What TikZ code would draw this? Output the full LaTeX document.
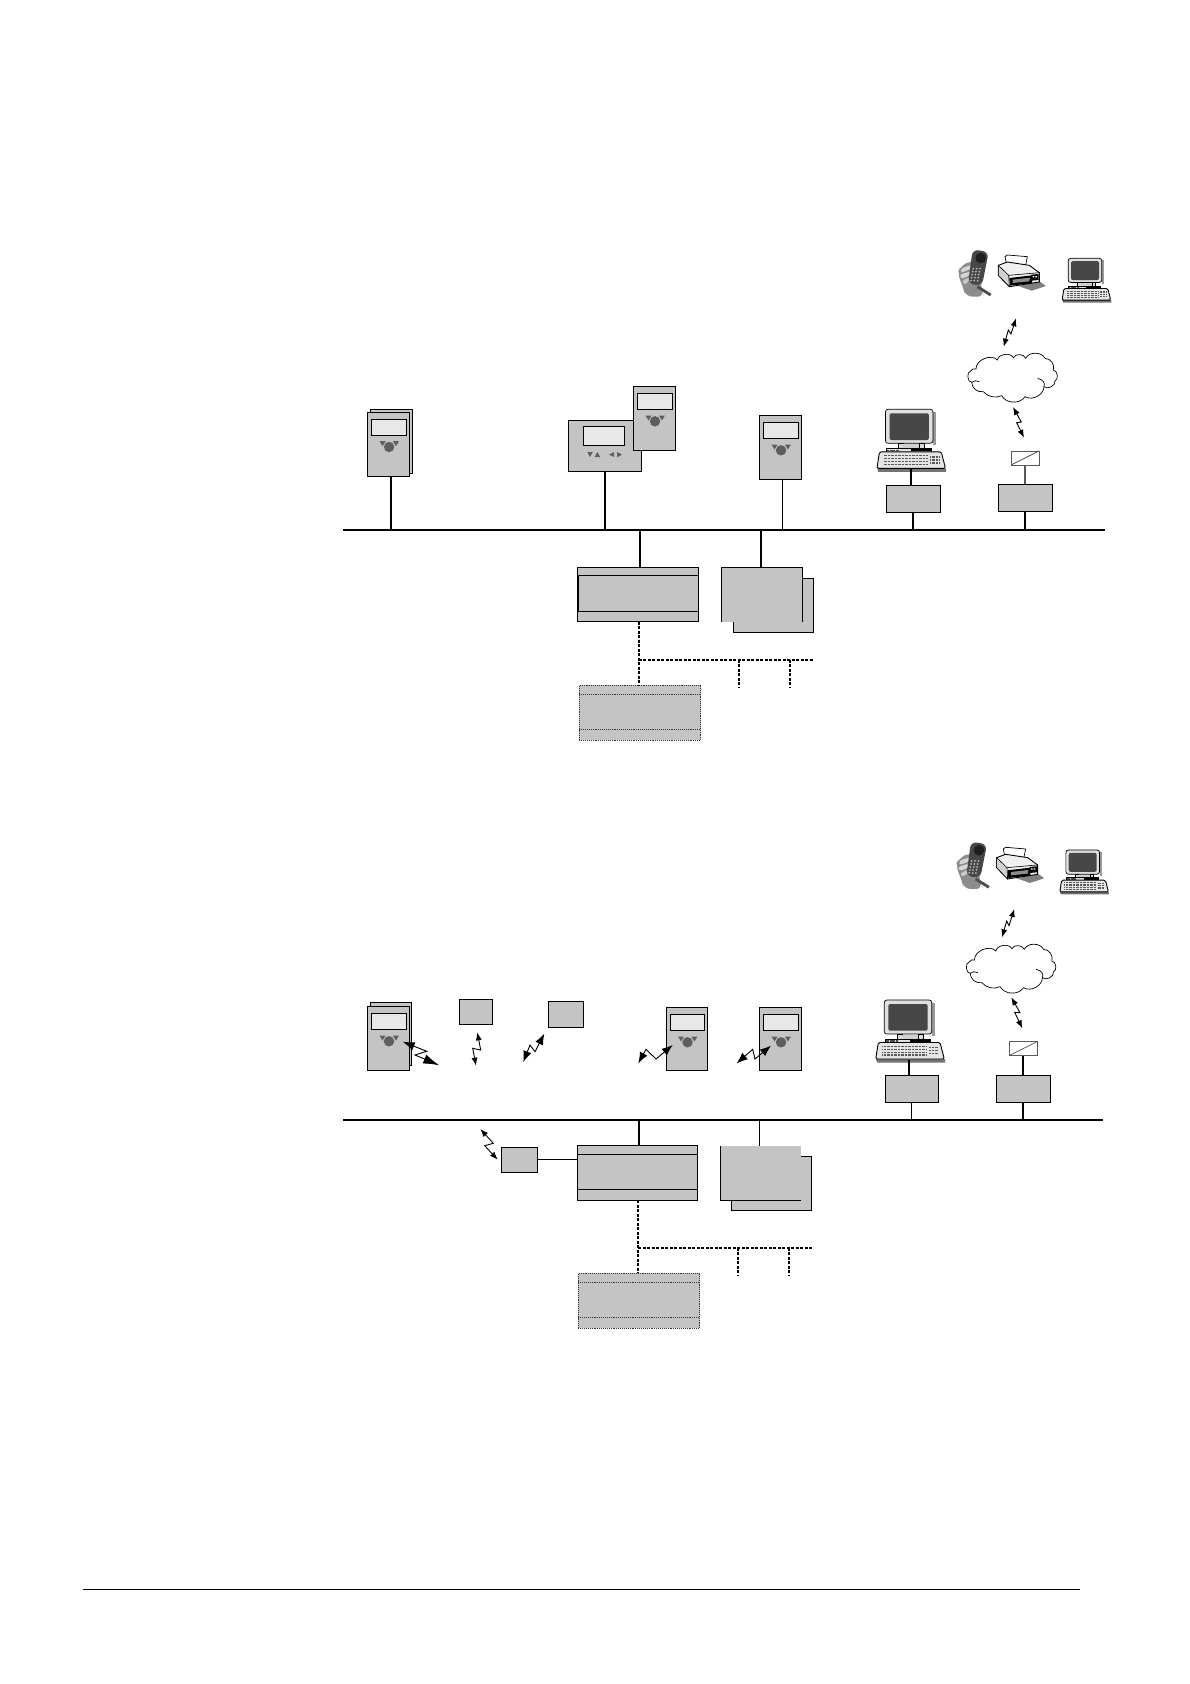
\documentclass[tikz,border=0pt]{standalone}
\usetikzlibrary{calc,fit,arrows.meta}
\definecolor{devgray}{HTML}{C4C4C4}
\definecolor{scrgray}{HTML}{E8E8E8}
\definecolor{knobgray}{HTML}{5E5E5E}
\tikzset{
  graybox/.style={draw=black,fill=devgray,line width=.9pt,inner sep=0pt,outer sep=0pt},
  screenbox/.style={draw=black,fill=scrgray,line width=.9pt,inner sep=0pt,outer sep=0pt},
  dotbox/.style={draw=black!80,fill=devgray,line width=.9pt,densely dotted,inner sep=0pt,outer sep=0pt},
  convbox/.style={draw=black!65,fill=white,line width=.8pt,inner sep=0pt,outer sep=0pt},
  bus/.style={line width=2pt,black},
  stemthick/.style={line width=1.8pt,black},
  stemthin/.style={line width=.9pt,black},
  fieldbus/.style={line width=1.8pt,black,dash pattern=on 3pt off 1.5pt},
  zig/.style={line width=.9pt,{Latex[length=8pt,width=6pt]}-{Latex[length=8pt,width=6pt]}},
  zigbig/.style={line width=.9pt,{Latex[length=11pt,width=8.5pt]}-{Latex[length=11pt,width=8.5pt]}},
  zighuge/.style={line width=.9pt,{Latex[length=12pt,width=8.5pt]}-{Latex[length=16pt,width=9.5pt]}},
  cloudline/.style={draw=black,line width=.7pt,fill=white},
}
% name x0 y0 x1 y1 : wall device
\newcommand\WallDev[5]{%
  \node[graybox,fit={(#2,#3)(#4,#5)}] (#1) {};
  \node[screenbox,fit={($(#1.north west)+(3.8,7)$)($(#1.north east)+(-3.2,23.3)$)}] (#1d) {};
  \fill[knobgray] ($(#1.north)+(-9,29.2)$) -- ++(6,0) -- ++(-3,5) -- cycle;
  \fill[knobgray] ($(#1.north)+(4.4,29.2)$) -- ++(6,0) -- ++(-3,5) -- cycle;
  \fill[knobgray] ($(#1.north)+(.5,35)$) circle (5.2);
}
% name x0 y0 x1 y1 ya yb style
\newcommand\ModuleBox[8]{%
  \node[#8,fit={(#2,#3)(#4,#5)}] (#1) {};
  \draw[#8,fill=none] (#2,#6) -- (#4,#6);
  \draw[#8,fill=none] (#2,#7) -- (#4,#7);
}
% origin x, y, scale
\newcommand\PCicon[3]{%
  \begin{scope}[shift={(#1,#2)},scale=#3]
    \pgfmathsetmacro\keyw{1.5*#3}
    \fill[black!55] (-32,59) -- (37,59) -- (37,62.5) -- (-31,62.5) -- cycle;
    \fill[black!40] (24,3) rectangle (26.5,36);
    \draw[black,fill=black!12,line width=.7pt,rounded corners=2.5pt] (-23.7,0) rectangle (23.7,34);
    \fill[black!72,rounded corners=2pt] (-19.7,4) rectangle (19.7,30.7);
    \draw[black,fill=black!15,line width=.5pt] (-11,34) rectangle (-6,39) (10,34) rectangle (15,39);
    \fill[black!18] (-6,35) rectangle (10,39);
    \draw[black,fill=black!12,line width=.5pt] (-23,39) rectangle (22,42.5);
    \fill[black] (2,39.8) rectangle (22,42);
    \draw[black!70,line width=1.5pt,dash pattern=on .7pt off .5pt] (-22,41) -- (-10,41);
    \draw[black,fill=black!10,line width=.9pt,rounded corners=1.5pt] (-29.7,42.5) -- (32,42.5) -- (36.3,59) -- (-32.3,59) -- cycle;
    \foreach \r in {46.3,49.3,52.3,55}{
      \draw[black!65,line width=\keyw pt,dash pattern=on .9pt off .5pt] (-25.7,\r) -- (18.7,\r);
    }
    \foreach \r in {47.5,50.5,53.5}{
      \draw[black!65,line width=\keyw pt,dash pattern=on .9pt off .5pt] (21,\r) -- (30,\r);
    }
  \end{scope}
}
% phone and printer; origin x, y, drawn in 1/3 px
\newcommand\PhonePrinter[2]{%
  \begin{scope}[shift={(#1,#2)},scale=1/3]
    % hand
    \fill[black!45,rounded corners=7pt] (22,102) -- (30,78) -- (70,60) -- (98,90) -- (92,150) -- (104,170) -- (46,170) -- (40,142) -- cycle;
    \fill[black!16,rounded corners=2pt] (32,86) -- (66,74) -- (64,86) -- (34,98) -- cycle;
    \fill[black!16,rounded corners=2pt] (30,104) -- (62,94) -- (60,106) -- (34,116) -- cycle;
    \fill[black!22,rounded corners=2pt] (36,122) -- (60,112) -- (58,124) -- (42,134) -- cycle;
    % phone
    \fill[black!72,rounded corners=6pt] (68,28) -- (116,36) -- (96,137) -- (54,131) -- cycle;
    \fill[black!88] (92,54) circle (16);
    \foreach \a in {0,1,2,3,4}\foreach \b in {0,1,2}
      \fill[black!28] ($(70,86)+(\b*10,\a*9)+(-\a*1.8,0)$) circle (3);
    \draw[black!70,line width=2.8pt] (82,140) -- (122,165);
    % printer
    \fill[black!50] (205,138) -- (270,125) -- (288,138) -- (245,152) -- cycle;
    \draw[black,fill=white,line width=.7pt] (165,50) -- (172,45) -- (232,50) -- (225,85) -- (172,85) -- cycle;
    \draw[black,fill=black!6,line width=.9pt] (145,76) -- (172,66) -- (238,76) -- (268,98) -- (268,126) -- (178,140) -- (145,106) -- cycle;
    \draw[black,fill=black!18,line width=.6pt] (145,76) -- (176,106) -- (178,140) -- (145,106) -- cycle;
    \draw[black,line width=.6pt] (176,106) -- (268,98);
    \fill[black] (178,114) -- (246,106) -- (246,130) -- (180,137) -- cycle;
    \fill[black!45] (188,119) -- (240,113) -- (238,124) -- (188,129) -- cycle;
    \fill[black] (244,104) -- (266,102) -- (266,120) -- (244,122) -- cycle;
    \fill[white] (248,108) rectangle (253,112) (256,108) rectangle (261,112);
  \end{scope}
}
% cloud; origin x, y, drawn in 1/3 px
\newcommand\CloudShape[2]{%
  \begin{scope}[shift={(#1,#2)},scale=1/3]
    \draw[cloudline] (48,72) to[bend left=70] (112,45) to[bend left=70] (160,38)
      to[bend left=70] (197,40) to[bend left=65] (255,40) to[bend left=55] (280,75)
      to[bend left=75] (285,108) to[bend left=70] (252,125) to[bend left=60] (195,155)
      to[bend left=60] (125,152) to[bend left=35] (70,140) to[bend left=50] (35,112)
      to[bend left=90] (32,78) to[bend left=40] (48,72) -- cycle;
    \draw[line width=.7pt,black] (233,100) .. controls (250,105) and (255,112) .. (252,125);
    \draw[line width=.7pt,black] (35,112) .. controls (42,106) and (50,106) .. (58,110);
  \end{scope}
}
\begin{document}
\begin{tikzpicture}[x=1pt,y=-1pt]
\useasboundingbox (0,0) rectangle (1190,1684);
% ===== upper panel =====
\coordinate (busAl) at (343,530);
\coordinate (busAr) at (1105,530);
\PhonePrinter{950}{240}
\PCicon{1085}{258.3}{.71}
\CloudShape{960}{345}
\draw[zig] (1016,318.3) -- (1011,334) -- (1008.3,330) -- (1003.7,346.7);
\draw[zig] (1013,407) -- (1021.3,422) -- (1016.7,422.7) -- (1024,437.7);
\node[graybox,fit={(370,409)(412,473)}] (devAback) {};
\WallDev{devA}{367.5}{412}{409.7}{476}
\node[graybox,fit={(568.3,420.3)(641.7,471.7)}] (devB) {};
\node[screenbox,fit={(583.3,426.3)(624.7,445.7)}] (devBd) {};
\fill[knobgray] (587.3,452) -- (592.8,452) -- (590,457.2) -- cycle;
\fill[knobgray] (594.5,457.2) -- (600.2,457.2) -- (597.3,452) -- cycle;
\fill[knobgray] (614.2,452) -- (614.2,457.2) -- (609.2,454.6) -- cycle;
\fill[knobgray] (617,452) -- (617,457.2) -- (622,454.6) -- cycle;
\WallDev{devC}{633.3}{386.3}{675.7}{450.3}
\WallDev{devD}{759.3}{415.3}{801.7}{479.3}
\PCicon{909.2}{409.3}{1}
\node[graybox,fit={(886.3,485.3)(940.7,512.3)}] (boxH) {};
\node[graybox,fit={(998.3,484.3)(1052.7,511.3)}] (boxI) {};
\node[convbox,fit={(1011,451)(1039,465)}] (convA) {};
\draw[line width=.7pt,black!70] (convA.south west) -- (convA.north east);
\draw[bus] (busAl) -- (busAr);
\draw[stemthick] ([xshift=2.4pt]devA.south) -- ([xshift=2.4pt]devA.south |- busAl);
\draw[stemthick] (devB.south) -- (devB.south |- busAl);
\draw[stemthin] ([xshift=1.8pt]devD.south) -- ([xshift=1.8pt]devD.south |- busAl);
\draw[stemthick] ([xshift=-2.5pt]boxH.north) -- ++(0,-17);
\draw[stemthick] ([xshift=-.8pt]boxH.south) -- ([xshift=-.8pt]boxH.south |- busAl);
\draw[line width=1.1pt,black!65] (convA.south) -- (convA.south |- boxI.north);
\draw[stemthick] ([xshift=-.8pt]boxI.south) -- ([xshift=-.8pt]boxI.south |- busAl);
% module E
\node[graybox,fit={(577.3,567.3)(698.7,621.7)}] (modE) {};
\node[graybox,fit={(578.7,575.3)(698.7,611.3)}] (modEi) {};
\draw[stemthick] ([xshift=2pt]modE.north) -- ([xshift=2pt]modE.north |- busAl);
% stacked F
\node[graybox,fit={(733.3,578.3)(813.3,632.3)}] (stkAb) {};
\node[fill=devgray,inner sep=0pt,outer sep=0pt,fit={(721.7,567.3)(802.3,621.7)}] (stkA) {};
\draw[stemthin] (stkA.south west) -- (stkA.north west) -- (stkA.north east) -- (stkA.south east);
\draw[stemthick] (761,567.3 |- stkA.north) -- (761,530 |- busAl);
% field bus
\ModuleBox{modG}{579.3}{685.3}{700.7}{740.3}{694}{729.3}{dotbox}
\coordinate (fbA) at (638.7,659.7);
\coordinate (fbAr) at (813.3,659.7);
\coordinate (tapA1) at (739,659.7);
\coordinate (tapA2) at (790,659.7);
\draw[fieldbus] ([xshift=.7pt]modE.south) -- ([xshift=.7pt]modE.south |- modG.north);
\draw[fieldbus] (fbA) -- (fbAr);
\draw[fieldbus] (tapA1) -- ++(0,28);
\draw[fieldbus] (tapA2) -- ++(0,28);
% ===== lower panel =====
\coordinate (busBl) at (343,1120);
\coordinate (busBr) at (1103.3,1120);
\PhonePrinter{948.3}{832.3}
\PCicon{1082.7}{850}{.71}
\CloudShape{958.5}{936}
\draw[zig] (1014.3,909) -- (1009,925.7) -- (1006.7,921) -- (1002,937.3);
\draw[zig] (1011.3,997.3) -- (1020,1012.7) -- (1014.7,1012.3) -- (1022.3,1028.3);
\node[graybox,fit={(370.3,1002.3)(411.7,1065.7)}] (devEback) {};
\WallDev{devE}{367.3}{1006.3}{409.7}{1070.3}
\node[graybox,fit={(459.3,999.3)(492.7,1024.3)}] (boxJ) {};
\node[graybox,fit={(548.3,1001.3)(583.7,1027.3)}] (boxK) {};
\WallDev{devL}{666.3}{1007.3}{707.7}{1070.3}
\WallDev{devM}{759.3}{1007.3}{801.7}{1070.3}
\draw[zighuge] (402.7,1041.7) -- (426.7,1051.3) -- (415,1055) -- (439.3,1065.3);
\draw[zig] (477.3,1032.3) -- (480.7,1050) -- (472.7,1048.3) -- (476,1065.7);
\draw[zigbig] (544.3,1033.7) -- (535,1051.7) -- (530,1045) -- (523.3,1062);
\draw[zigbig] (672.7,1045) -- (656,1059) -- (646,1049.3) -- (638.3,1063.3);
\draw[zigbig] (771,1045.7) -- (755,1059) -- (752.7,1049.3) -- (736.7,1063.3);
\draw[zig] (480.3,1129) -- (493.3,1143.3) -- (484.7,1145.7) -- (497.7,1159.7);
\PCicon{908}{1000}{1}
\node[graybox,fit={(885.3,1075.3)(938.7,1102.7)}] (boxR) {};
\node[graybox,fit={(996.3,1075.3)(1050.7,1102.7)}] (boxS) {};
\node[convbox,fit={(1009,1041.3)(1037.7,1055.7)}] (convB) {};
\draw[line width=.7pt,black!70] (convB.south west) -- (convB.north east);
\draw[bus] (busBl) -- (busBr);
\draw[stemthick] ([xshift=-3pt]boxR.north) -- ++(0,-15);
\draw[stemthin] ([xshift=-.5pt]boxR.south) -- ([xshift=-.5pt]boxR.south |- busBl);
\draw[stemthick] (convB.south) -- (convB.south |- boxS.north);
\draw[stemthick] ([xshift=-.8pt]boxS.south) -- ([xshift=-.8pt]boxS.south |- busBl);
\ModuleBox{modP}{577.3}{1145.3}{697.7}{1200.3}{1154.3}{1189.7}{graybox}
\draw[stemthick] ([xshift=1.5pt]modP.north) -- ([xshift=1.5pt]modP.north |- busBl);
\node[graybox,fit={(501.3,1147.3)(537.7,1172.3)}] (boxN) {};
\draw[stemthin] (boxN.east) -- (boxN.east -| modP.west);
% stacked F2
\node[graybox,fit={(731.3,1156.3)(811.7,1210.3)}] (stkBb) {};
\node[fill=devgray,inner sep=0pt,outer sep=0pt,fit={(720.3,1146)(801,1200.3)}] (stkB) {};
\draw[stemthin] (stkB.north west) -- (stkB.south west) -- (stkB.south east);
\draw[stemthin] (759.3,1146 |- stkB.north) -- (759.3,1120 |- busBl);
% field bus
\ModuleBox{modQ}{578.3}{1273.3}{699.7}{1328.3}{1282}{1317}{dotbox}
\coordinate (fbB) at (638,1247.7);
\coordinate (fbBr) at (812.7,1247.7);
\coordinate (tapB1) at (737.7,1247.7);
\coordinate (tapB2) at (788.7,1247.7);
\draw[fieldbus] ([xshift=.5pt]modP.south) -- ([xshift=.5pt]modP.south |- modQ.north);
\draw[fieldbus] (fbB) -- (fbBr);
\draw[fieldbus] (tapB1) -- ++(0,28);
\draw[fieldbus] (tapB2) -- ++(0,28);
% footer rule
\coordinate (ruleL) at (82.5,1589.5);
\coordinate (ruleR) at (1079.5,1589.5);
\draw[line width=.9pt,black] (ruleL) -- (ruleR);
\end{tikzpicture}
\end{document}
